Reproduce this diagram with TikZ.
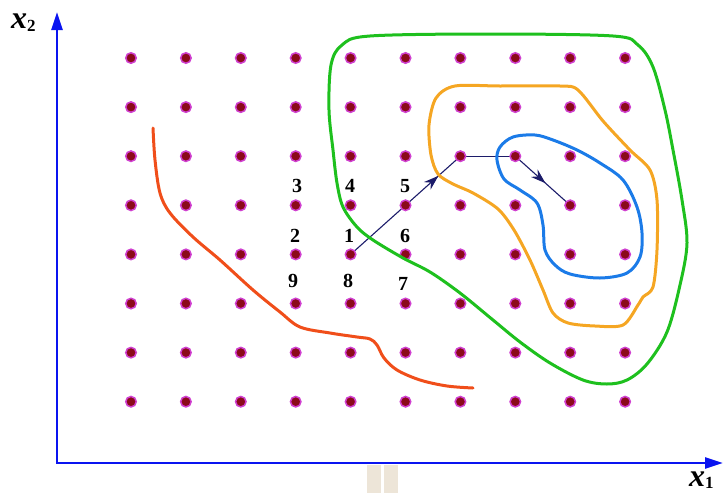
\documentclass[tikz,border=0pt]{standalone}
\usepackage{fontspec}
\setmainfont{Liberation Serif}
\usetikzlibrary{arrows.meta,decorations.markings,backgrounds}
\definecolor{dotred}{HTML}{8B0A1A}
\definecolor{dotrim}{HTML}{D040D0}
\definecolor{cgreen}{HTML}{1EC01E}
\definecolor{corange}{HTML}{F5A623}
\definecolor{cblue}{HTML}{1B7BE8}
\definecolor{cred}{HTML}{F04E1A}
\definecolor{axisblue}{HTML}{0A14F0}
\definecolor{pathnavy}{HTML}{1C1C6A}
\definecolor{barbeige}{HTML}{EDE5D8}
\begin{document}
\begin{tikzpicture}[x=1pt,y=-1pt,
  gdot/.style={circle,inner sep=0pt,minimum size=10.5pt,fill=dotred,draw=dotrim,line width=1.5pt},
  contour/.style={line width=3pt,line join=round,line cap=round},
  axisline/.style={draw=axisblue,line width=2.5pt,{Triangle[length=18pt,width=11pt]}-{Triangle[length=18pt,width=11pt]}},
  num/.style={font=\fontsize{20}{22}\selectfont\bfseries,inner sep=0pt},
  stepline/.style={draw=pathnavy,line width=1.1pt},
  midarrow/.style={postaction={decorate},decoration={markings,mark=at position #1 with {\arrow[pathnavy]{Stealth[length=15pt,width=10pt]}}}}]
\useasboundingbox (0,0) rectangle (726,493);
% beige bars
\fill[barbeige] (367,465) rectangle (381,493);
\fill[barbeige] (384,465) rectangle (398,493);
% axes
\coordinate (O) at (57,463);
\coordinate (Ytip) at (57,12);
\coordinate (Xtip) at (723,463);
\draw[axisline] (Ytip) -- (O) -- (Xtip);
\node[anchor=base west,inner sep=0pt] (lx2) at (11,28) {\fontsize{32}{32}\selectfont\bfseries\itshape x\raisebox{-3pt}{\fontsize{17}{17}\selectfont\upshape 2}};
\node[anchor=base west,inner sep=0pt] (lx1) at (689,486) {\fontsize{32}{32}\selectfont\bfseries\itshape x\raisebox{-2pt}{\fontsize{17}{17}\selectfont\upshape 1}};
% grid of dots
\foreach \c in {1,...,10}{
  \foreach \r in {1,...,8}{
    \node[gdot] (d-\c-\r) at ({131+54.9*(\c-1)},{58+49.1*(\r-1)}) {};
  }
}
% search path
\begin{scope}[on background layer]
\draw[stepline,midarrow=0.8] (d-5-5.center) -- (d-7-3.center);
\draw[stepline] (d-7-3.center) -- (d-8-3.center);
\draw[stepline,midarrow=0.55] (d-8-3.center) -- (d-9-4.center);
\end{scope}
% numbers
\node[num] (n3) at (297,186) {3};
\node[num] (n4) at (350,186) {4};
\node[num] (n5) at (405,186) {5};
\node[num] (n2) at (295,236) {2};
\node[num] (n1) at (349,236) {1};
\node[num] (n6) at (405,236) {6};
\node[num] (n9) at (293,281) {9};
\node[num] (n8) at (348,281) {8};
\node[num] (n7) at (403,284) {7};
% contours
\draw[contour,cred] plot[smooth,tension=0.55] coordinates {(153,128) (155,160) (160,193) (170,213) (193,237) (220,260) (253,290) (280,312) (300,327) (330,333) (357,337) (370,339) (377,345) (384,358) (397,370) (420,380) (447,386) (473,388)};
\draw[contour,cgreen] plot[smooth cycle,tension=0.55] coordinates {(329,110) (333,150) (337,183) (343,207) (357,227) (373,240) (403,258) (430,272) (460,293) (493,320) (520,342) (550,363) (583,380) (607,384) (627,380) (647,364) (667,332) (680,285) (687,243) (682,200) (673,150) (665,110) (653,67) (638,45) (613,36) (490,34) (370,36) (342,45) (331,65)};
\draw[contour,corange] plot[smooth cycle,tension=0.5] coordinates {(429,125) (431,155) (438,174) (453,184) (473,193) (498,209) (514,230) (530,260) (543,290) (553,313) (568,323) (595,326) (623,325) (638,305) (643,297) (653,287) (657,250) (657,200) (650,170) (630,150) (603,121) (578,90) (560,86) (500,86) (455,86) (436,98)};
\draw[contour,cblue] plot[smooth cycle,tension=0.55] coordinates {(497,160) (504,179) (520,190) (537,203) (543,225) (545,250) (555,265) (570,274) (600,278) (627,273) (640,257) (642,233) (637,207) (623,180) (600,163) (577,150) (553,140) (535,135) (513,137) (500,147)};
\end{tikzpicture}
\end{document}
